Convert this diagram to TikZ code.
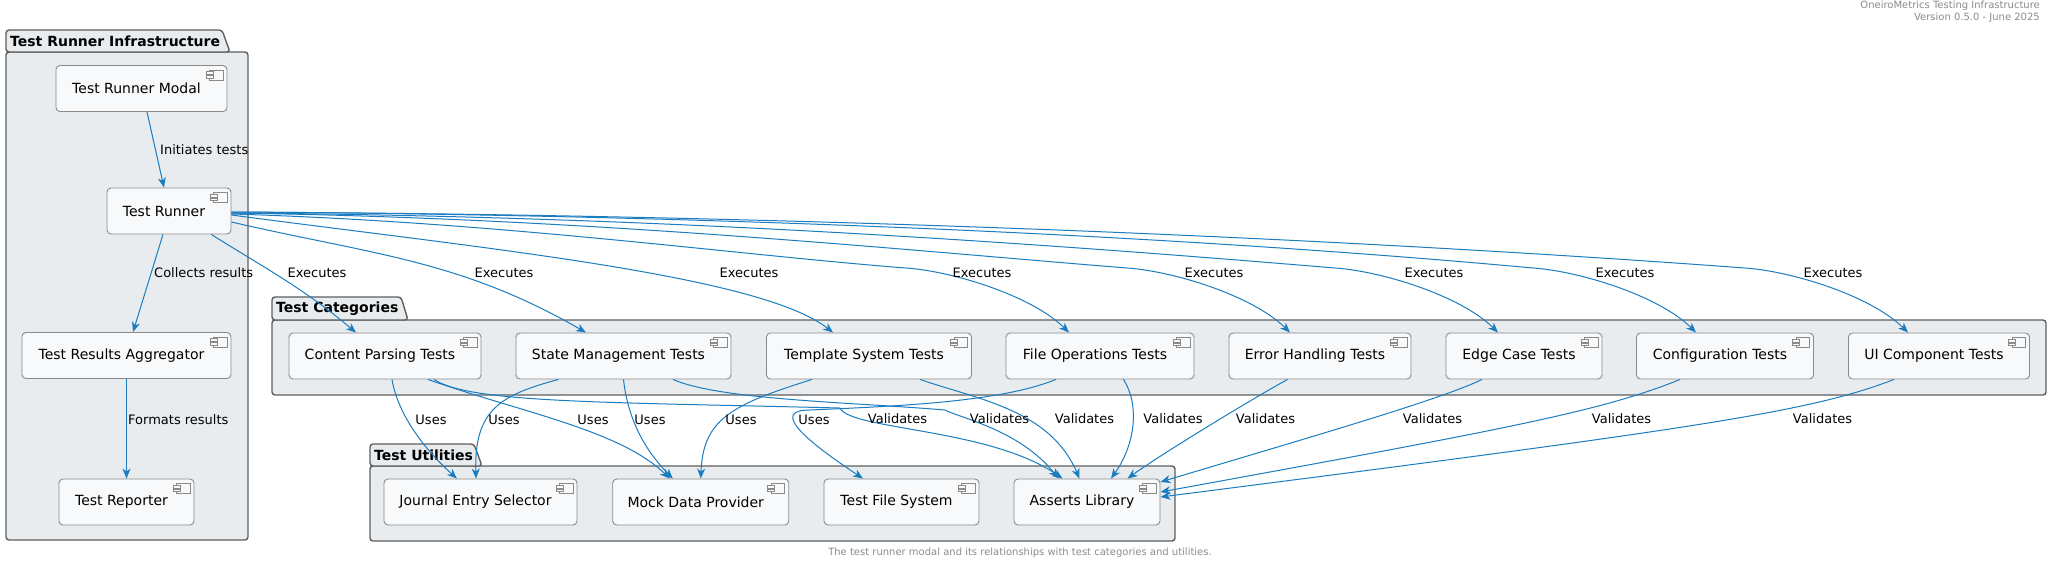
\documentclass[tikz,border=0pt]{standalone}
\usepackage{fontspec}
\setmainfont{DejaVu Sans}
\usetikzlibrary{arrows.meta}

\definecolor{pkgfill}{HTML}{E9ECEF}
\definecolor{pkgline}{HTML}{5E5E5E}
\definecolor{compfill}{HTML}{F8F9FA}
\definecolor{compline}{HTML}{8A8A8A}
\definecolor{relblue}{HTML}{1B7CC0}
\definecolor{notegray}{HTML}{8C8C8C}

\tikzset{
  comp/.style={draw=compline, fill=compfill, line width=0.9pt, rounded corners=4pt,
    minimum height=46pt, inner sep=0pt, font=\fontsize{14}{16}\selectfont,
    execute at end node={\hspace*{10pt}}},
  icon/.style={draw=compline, fill=compfill, line width=0.8pt},
  pkg/.style={draw=pkgline, fill=pkgfill, line width=1.4pt, rounded corners=3pt},
  pkgtitle/.style={anchor=west, inner sep=0pt, font=\fontsize{14}{16}\selectfont\bfseries},
  rel/.style={draw=relblue, line width=1pt, -{Stealth[length=10pt,width=8pt,inset=3pt]}},
  lbl/.style={inner sep=0pt, font=\fontsize{13}{15}\selectfont},
  note/.style={inner sep=0pt, text=notegray, font=\fontsize{10}{11.5}\selectfont}
}

\begin{document}
\begin{tikzpicture}[x=1pt, y=1pt]
  \fill[white] (0,0) rectangle (2052,-566);
  \useasboundingbox (0,0) rectangle (2052,-566);

  % header and caption
  \node[note, anchor=north east, align=right] (header) at (2040,-1)
    {OneiroMetrics Testing Infrastructure\\Version 0.5.0 - June 2025};
  \node[note] (caption) at (1020,-553)
    {The test runner modal and its relationships with test categories and utilities.};

  % packages
  \draw[pkg] (6,-52) rectangle (248,-540);
  \draw[pkg] (6,-52) -- (6,-30) -- (222,-30) -- (230,-52) -- cycle;
  \node[pkgtitle] (infratitle) at (10,-41) {Test Runner Infrastructure};

  \draw[pkg] (272,-320) rectangle (2046,-395);
  \draw[pkg] (272,-320) -- (272,-297) -- (401,-297) -- (408,-320) -- cycle;
  \node[pkgtitle] (cattitle) at (276,-308.5) {Test Categories};

  \draw[pkg] (370,-466) rectangle (1175,-541);
  \draw[pkg] (370,-466) -- (370,-444) -- (474,-444) -- (482,-466) -- cycle;
  \node[pkgtitle] (utiltitle) at (374,-455) {Test Utilities};

  % runner infrastructure
  \node[comp, minimum width=171pt] (modal) at (141.5,-88.5) {Test Runner Modal};
  \node[comp, minimum width=124pt] (runner) at (169,-211) {Test Runner};
  \node[comp, minimum width=209pt] (agg) at (126.5,-355.5) {Test Results Aggregator};
  \node[comp, minimum width=135pt] (reporter) at (126.5,-502) {Test Reporter};

  % test categories
  \node[comp, minimum width=192pt] (cp) at (385,-356) {Content Parsing Tests};
  \node[comp, minimum width=215pt] (sm) at (623.5,-356) {State Management Tests};
  \node[comp, minimum width=205pt] (tmpl) at (869,-356) {Template System Tests};
  \node[comp, minimum width=188pt] (fo) at (1100,-356) {File Operations Tests};
  \node[comp, minimum width=182pt] (err) at (1320,-356) {Error Handling Tests};
  \node[comp, minimum width=156pt] (edge) at (1524,-356) {Edge Case Tests};
  \node[comp, minimum width=177pt] (conf) at (1725,-356) {Configuration Tests};
  \node[comp, minimum width=181pt] (ui) at (1939,-356) {UI Component Tests};

  % test utilities
  \node[comp, minimum width=193pt] (jes) at (480.5,-502) {Journal Entry Selector};
  \node[comp, minimum width=176pt] (mdp) at (700.75,-502) {Mock Data Provider};
  \node[comp, minimum width=155pt] (tfs) at (901.5,-502) {Test File System};
  \node[comp, minimum width=146pt] (asl) at (1087,-502) {Asserts Library};

  \foreach \n in {modal,runner,agg,reporter,cp,sm,tmpl,fo,err,edge,conf,ui,jes,mdp,tfs,asl} {
    \draw[icon] ([xshift=-18pt,yshift=-5pt]\n.north east) rectangle ++(13.5,-10);
    \draw[icon] ([xshift=-21.5pt,yshift=-6.8pt]\n.north east) rectangle ++(7,-2.6);
    \draw[icon] ([xshift=-21.5pt,yshift=-10.6pt]\n.north east) rectangle ++(7,-2.6);
  }

  % inside the infrastructure package
  \draw[rel] ([xshift=5.5pt]modal.south) -- ([xshift=-5pt]runner.north);
  \node[lbl, anchor=west] (linit) at (160,-150) {Initiates tests};
  \draw[rel] ([xshift=-6pt]runner.south) -- ([xshift=6.5pt]agg.north);
  \node[lbl, anchor=west] (lcollect) at (154,-273) {Collects results};
  \draw[rel] (agg.south) -- (reporter.north);
  \node[lbl, anchor=west] (lformat) at (128,-420) {Formats results};

  % runner executes every category
  \draw[rel] (runner.-29) to[out=-32, in=140] ([xshift=-29pt]cp.north);
  \draw[rel] (runner.-10) to[out=-13, in=150] ([xshift=-37.5pt]sm.north);
  \draw[rel] ([yshift=-4pt]runner.east) .. controls (480,-248) and (760,-275) .. ([xshift=-36pt]tmpl.north);
  \draw[rel] ([yshift=-3pt]runner.east) .. controls (501,-222) and (737,-255) .. (906,-268)
    .. controls (951,-271) and (1031,-295) .. ([xshift=-31pt]fo.north);
  \draw[rel] ([yshift=-2pt]runner.east) .. controls (589,-218) and (903,-250) .. (1127,-268)
    .. controls (1172,-271) and (1252,-295) .. ([xshift=-30pt]err.north);
  \draw[rel] ([yshift=-2pt]runner.east) .. controls (673,-216) and (1059,-245) .. (1335,-268)
    .. controls (1380,-271) and (1460,-295) .. ([xshift=-26pt]edge.north);
  \draw[rel] ([yshift=-1pt]runner.east) .. controls (752,-215) and (1207,-238) .. (1533,-268)
    .. controls (1578,-271) and (1658,-295) .. ([xshift=-29pt]conf.north);
  \draw[rel] ([yshift=-1pt]runner.east) .. controls (837,-215) and (1366,-240) .. (1745,-268)
    .. controls (1790,-271) and (1870,-295) .. ([xshift=-31pt]ui.north);
  \node[lbl] (x1) at (317,-273) {Executes};
  \node[lbl] (x2) at (504,-273) {Executes};
  \node[lbl] (x3) at (749,-273) {Executes};
  \node[lbl] (x4) at (982,-273) {Executes};
  \node[lbl] (x5) at (1214,-273) {Executes};
  \node[lbl] (x6) at (1434,-273) {Executes};
  \node[lbl] (x7) at (1625,-273) {Executes};
  \node[lbl] (x8) at (1833,-273) {Executes};

  % categories use the utilities
  \draw[rel] ([xshift=7pt]cp.south) .. controls (398,-415) and (425,-450) .. ([xshift=-23.5pt]jes.north);
  \draw[rel] ([xshift=-65pt]sm.south) .. controls (500,-395) and (474,-410) .. ([xshift=-4.5pt]jes.north);
  \draw[rel] ([xshift=43pt]cp.south) .. controls (520,-412) and (620,-430) .. ([xshift=-31pt]mdp.north);
  \draw[rel] (sm.south) .. controls (628,-420) and (645,-450) .. ([xshift=-28pt]mdp.north);
  \draw[rel] ([xshift=-57pt]tmpl.south) .. controls (730,-405) and (703,-420) .. (mdp.north);
  \draw[rel] ([xshift=-44pt]fo.south) .. controls (1000,-402) and (900,-406) .. (810,-410)
    .. controls (770,-410) and (805,-440) .. ([xshift=-38.5pt]tfs.north);
  \node[lbl] (u1) at (431,-420) {Uses};
  \node[lbl] (u2) at (504,-420) {Uses};
  \node[lbl] (u3) at (593,-420) {Uses};
  \node[lbl] (u4) at (650,-420) {Uses};
  \node[lbl] (u5) at (741,-420) {Uses};
  \node[lbl] (u6) at (814,-420) {Uses};

  % every category validates with the asserts library
  \draw[rel] ([xshift=49pt]cp.south) .. controls (470,-403) and (600,-402) .. (840,-408)
    .. controls (850,-430) and (990,-428) .. ([xshift=-24.5pt]asl.north);
  \draw[rel] ([xshift=49.5pt]sm.south) .. controls (720,-400) and (850,-402) .. (945,-410)
    .. controls (960,-418) and (1020,-430) .. ([xshift=-28.5pt]asl.north);
  \draw[rel] ([xshift=51pt]tmpl.south) .. controls (980,-400) and (1050,-410) .. ([xshift=-7.5pt]asl.north);
  \draw[rel] ([xshift=23.5pt]fo.south) .. controls (1140,-405) and (1135,-445) .. ([xshift=24pt]asl.north);
  \draw[rel] ([xshift=-32.5pt]err.south) .. controls (1250,-400) and (1160,-455) .. ([xshift=40.5pt]asl.north);
  \draw[rel] ([xshift=-42pt]edge.south) .. controls (1440,-400) and (1300,-440) .. ([yshift=20pt]asl.east);
  \draw[rel] ([xshift=-45pt]conf.south) .. controls (1600,-412) and (1500,-430) .. ([yshift=10pt]asl.east);
  \draw[rel] ([xshift=-45pt]ui.south) .. controls (1810,-412) and (1700,-428) .. ([yshift=5pt]asl.east);
  \node[lbl] (v1) at (897.5,-419) {Validates};
  \node[lbl] (v2) at (999.5,-419) {Validates};
  \node[lbl] (v3) at (1084.5,-419) {Validates};
  \node[lbl] (v4) at (1173,-419) {Validates};
  \node[lbl] (v5) at (1265.5,-419) {Validates};
  \node[lbl] (v6) at (1432.5,-419) {Validates};
  \node[lbl] (v7) at (1621.5,-419) {Validates};
  \node[lbl] (v8) at (1822.5,-419) {Validates};
\end{tikzpicture}
\end{document}
